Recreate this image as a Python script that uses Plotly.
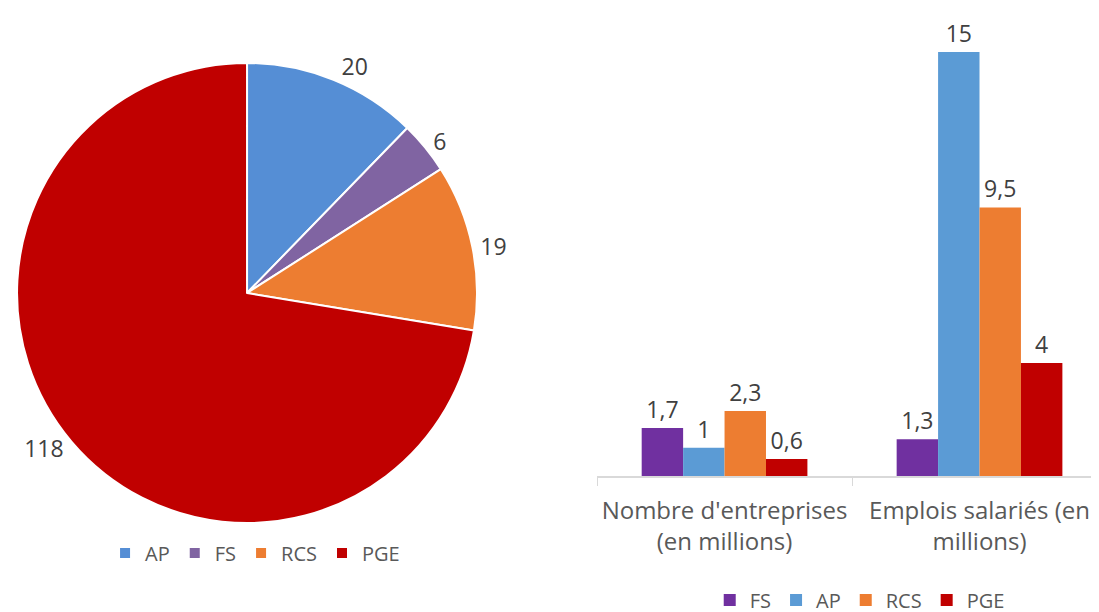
import plotly.graph_objects as go

# Pie data (left)
pie_labels = ["AP", "FS", "RCS", "PGE"]
pie_values = [20, 6, 19, 118]
pie_colors = ["#558ED5", "#8064A2", "#ED7D31", "#C00000"]

# Bar data (right)
categories = ["Nombre d'entreprises<br>(en millions)", "Emplois salariés (en<br>millions)"]
bar_series = ["FS", "AP", "RCS", "PGE"]
fs_values = [1.7, 1.3]
ap_values = [1, 15]
rcs_values = [2.3, 9.5]
pge_values = [0.6, 4]
bar_colors = ["#7030A0", "#5B9BD5", "#ED7D31", "#C00000"]

FONT = "Open Sans"
TXT = "#404040"
GREY = "#595959"

def fmt(v):
    return str(v).replace(".", ",")

fig = go.Figure()

fig.add_trace(go.Pie(
    labels=pie_labels, values=pie_values, sort=False, direction="clockwise",
    marker=dict(colors=pie_colors, line=dict(color="white", width=2)),
    textinfo="value", textposition="outside",
    textfont=dict(family=FONT, size=23, color=TXT),
    domain=dict(x=[0.0082, 0.4268], y=[0.1585, 0.9101]),
    legend="legend", showlegend=True,
))

for name, vals, col in zip(bar_series, [fs_values, ap_values, rcs_values, pge_values], bar_colors):
    fig.add_trace(go.Bar(
        name=name, x=categories, y=vals, marker=dict(color=col, line=dict(width=0)),
        text=[fmt(v) for v in vals], textposition="outside", cliponaxis=False,
        textfont=dict(family=FONT, size=23, color=TXT),
        legend="legend2",
    ))

fig.update_layout(
    width=1099, height=612,
    margin=dict(l=0, r=0, t=0, b=0, autoexpand=False),
    paper_bgcolor="white", plot_bgcolor="white",
    font=dict(family=FONT, color=GREY),
    barmode="group", bargap=0.35, bargroupgap=0,
    xaxis=dict(domain=[0.536, 1.0], showline=True, linecolor="#D9D9D9", linewidth=1.5,
               ticks="outside", tickson="boundaries", ticklen=8, tickcolor="#D9D9D9",
               ticklabelstandoff=12,
               tickfont=dict(family=FONT, size=24, color=GREY), showgrid=False,
               automargin=False),
    yaxis=dict(domain=[0.2353, 0.9281], range=[0, 15], visible=False, automargin=False),
    legend=dict(orientation="h", x=0.2248, xanchor="center", y=0.1095, yanchor="middle",
                font=dict(family=FONT, size=20, color=GREY), traceorder="normal"),
    legend2=dict(orientation="h", x=0.775, xanchor="center", y=0.0327, yanchor="middle",
                 font=dict(family=FONT, size=20, color=GREY), traceorder="normal"),
)

fig.write_html("out.html")
